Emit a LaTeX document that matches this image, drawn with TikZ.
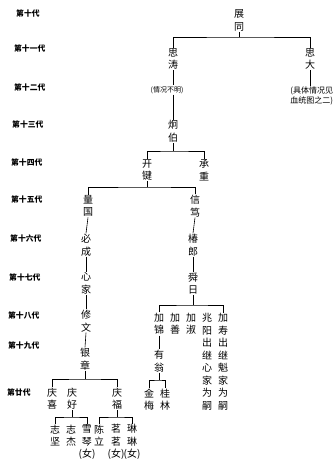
\documentclass[tikz,border=0pt]{standalone}
\usepackage{fontspec}
\newfontfamily\cjk{Noto Sans CJK SC}
\begin{document}
\begin{tikzpicture}[x=1pt,y=-1pt,
  nm/.style={font=\cjk\fontsize{10}{12.5}\selectfont, align=center, inner sep=0.6pt},
  note/.style={font=\cjk\fontsize{7}{9}\selectfont, inner sep=0.8pt},
  gen/.style={font=\cjk\bfseries\fontsize{7.8}{9}\selectfont, anchor=west, inner sep=0pt},
  ln/.style={line width=0.6pt}]
\useasboundingbox (0,0) rectangle (334,461);
% generation labels
\node[gen] (g10) at (16,13) {第十代};
\node[gen] (g11) at (14,48) {第十一代};
\node[gen] (g12) at (14,87) {第十二代};
\node[gen] (g13) at (12,124) {第十三代};
\node[gen] (g14) at (11,162) {第十四代};
\node[gen] (g15) at (11,199) {第十五代};
\node[gen] (g16) at (10,238) {第十六代};
\node[gen] (g17) at (9,277) {第十七代};
\node[gen] (g18) at (8,315) {第十八代};
\node[gen] (g19) at (8,345) {第十九代};
\node[gen] (g20) at (7,392) {第廿代};
% names
\node[nm] (zt) at (239,20.5) {展\\同};
\node[nm] (st) at (173,59) {思\\涛};
\node[nm] (sd) at (310,59) {思\\大};
\node[note] (qk) at (167,90) {(情况不明)};
\node[font=\cjk\fontsize{8}{10}\selectfont, align=right, inner sep=0.8pt, anchor=east] (jt) at (334,96) {(具体情况见\\血统图之二)};
\node[nm] (jb) at (173,131.5) {炯\\伯};
\node[nm] (kj) at (147,170) {开\\键};
\node[nm] (cz) at (204,170) {承\\重};
\node[nm] (lg) at (88,206) {量\\国};
\node[nm] (xd) at (195,206) {信\\笃};
\node[nm] (bc) at (86,245) {必\\成};
\node[nm] (cl) at (193,245) {椿\\郎};
\node[nm] (xj) at (86,283.5) {心\\家};
\node[nm] (sr) at (193,283.5) {舜\\日};
\node[nm] (xw) at (86,321) {修\\文};
\node[nm] (ja) at (159,324) {加\\锦};
\node[nm] (jsh) at (175,324) {加\\善};
\node[nm] (jsu) at (191,324) {加\\淑};
\node[nm] (zy) at (207,361.75) {兆\\阳\\出\\继\\心\\家\\为\\嗣};
\node[nm] (jso) at (223,361.75) {加\\寿\\出\\继\\魁\\家\\为\\嗣};
\node[nm] (yz) at (85,359) {银\\章};
\node[nm] (yw) at (159,361) {有\\翁};
\node[nm] (qx) at (52,398.5) {庆\\喜};
\node[nm] (qh) at (72,398.5) {庆\\好};
\node[nm] (qf) at (117,398.5) {庆\\福};
\node[nm] (jm) at (149,399.5) {金\\梅};
\node[nm] (gl) at (165,399.5) {桂\\林};
\node[nm] (zj) at (55,435.5) {志\\坚};
\node[nm] (zje) at (71,435.5) {志\\杰};
\node[nm] (xq) at (87,442) {雪\\琴\\(女)};
\node[nm] (cli) at (99,435.5) {陈\\立};
\node[nm] (mm) at (116,442) {茗\\茗\\(女)};
\node[nm] (ll) at (132,442) {琳\\琳\\(女)};
% bar coordinates
\coordinate (b1) at (239,37);
\coordinate (b2) at (173,151);
\coordinate (b3) at (147,187);
\coordinate (b4) at (193,305);
\coordinate (b5) at (85,379);
\coordinate (b6) at (159,380);
\coordinate (b7) at (72,417);
\coordinate (b8) at (117,417);
% connectors
\draw[ln] (zt.south) -- (b1);
\draw[ln] (st.north) |- (b1) -| (sd.north);
\draw[ln] (st.south) -- (st.south |- qk.north);
\draw[ln] (sd.south) -- (sd.south |- jt.north);
\draw[ln] (st.south |- qk.south) -- (jb.north);
\draw[ln] (jb.south) -- (b2);
\draw[ln] (kj.north) |- (b2) -| (cz.north);
\draw[ln] (kj.south) -- (b3);
\draw[ln] (lg.north) |- (b3) -| (xd.north);
\draw[ln] (lg.south) -- (bc.north);
\draw[ln] (xd.south) -- (cl.north);
\draw[ln] (bc.south) -- (xj.north);
\draw[ln] (cl.south) -- (sr.north);
\draw[ln] (xj.south) -- (xw.north);
\draw[ln] (sr.south) -- (b4);
\draw[ln] (ja.north) |- (b4) -| (jso.north);
\draw[ln] (xw.south) -- (yz.north);
\draw[ln] (ja.south) -- (yw.north);
\draw[ln] (yz.south) -- (b5);
\draw[ln] (qx.north) |- (b5) -| (qf.north);
\draw[ln] (yw.south) -- (b6);
\draw[ln] (jm.north) |- (b6) -| (gl.north);
\draw[ln] (qh.south) -- (b7);
\draw[ln] (zj.north) |- (b7) -| (xq.north);
\draw[ln] (qf.south) -- (b8);
\draw[ln] (cli.north) |- (b8) -| (ll.north);
\end{tikzpicture}
\end{document}
